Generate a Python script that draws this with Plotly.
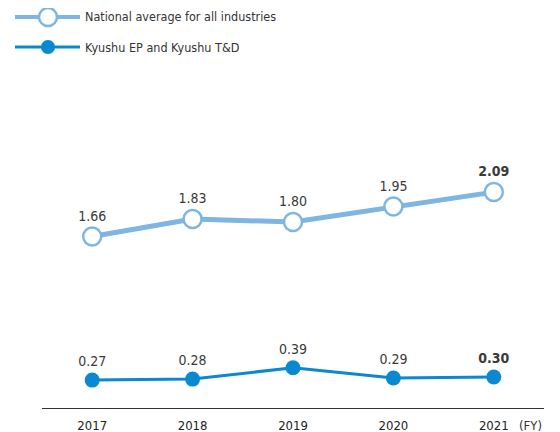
import plotly.graph_objects as go

years = [2017, 2018, 2019, 2020, 2021]
national = [1.66, 1.83, 1.80, 1.95, 2.09]
kyushu = [0.27, 0.28, 0.39, 0.29, 0.30]
names = ["National average for all industries", "Kyushu EP and Kyushu T&D"]

light = "#7db5e3"
dark = "#0a89d0"
font = "DejaVu Sans Condensed, Roboto, Arial, sans-serif"

# page body has an 8px margin, plot area wanted at x 42..544, y 70..408 in the window
OFF = 8
PL, PT, PW, PH = 42, 70, 502, 338
SCALE = 103.3  # px per unit

def px(x):
    return (x - PL) / PW

def py(y):
    return 1 - (y - PT) / PH

def labels(vals):
    out = [f"{v:.2f}" for v in vals]
    out[-1] = "<b>" + out[-1] + "</b>"
    return out

fig = go.Figure()
fig.add_trace(go.Scatter(x=years, y=national, mode="lines+markers+text",
                         text=labels(national), textposition="top center",
                         textfont=dict(size=14, color="#3a3a3a"),
                         line=dict(color=light, width=5),
                         marker=dict(size=18, color="white", line=dict(color=light, width=2.5)),
                         cliponaxis=False, name=names[0]))
fig.add_trace(go.Scatter(x=years, y=kyushu, mode="lines+markers+text",
                         text=labels(kyushu), textposition="top center",
                         textfont=dict(size=14, color="#3a3a3a"),
                         line=dict(color=dark, width=3),
                         marker=dict(size=15, color=dark),
                         cliponaxis=False, name=names[1]))

# hand drawn legend (long line samples with centered marker)
legend_rows = [(17, light, 4, 9, "white", 2.5), (47, dark, 3, 7, dark, 0)]
for (ypx, col, lw, r, fill, bw), nm in zip(legend_rows, names):
    fig.add_shape(type="line", xref="paper", yref="paper",
                  x0=px(15), x1=px(80), y0=py(ypx), y1=py(ypx),
                  line=dict(color=col, width=lw))
    fig.add_shape(type="circle", xref="paper", yref="paper",
                  xsizemode="pixel", ysizemode="pixel",
                  xanchor=px(48), yanchor=py(ypx),
                  x0=-r, x1=r, y0=-r, y1=r,
                  fillcolor=fill, line=dict(color=col, width=bw if bw else 0.1))
    fig.add_annotation(xref="paper", yref="paper", x=px(83), y=py(ypx),
                       xanchor="left", yanchor="middle", text=nm, showarrow=False,
                       font=dict(size=12.5, color="#333"))

fig.add_annotation(xref="paper", yref="paper", x=px(517), y=py(425),
                   xanchor="left", yanchor="middle", text="(FY)", showarrow=False,
                   font=dict(size=13, color="#333"))

fig.update_layout(
    width=560, height=432,
    margin=dict(l=PL - OFF, r=560 - (PL - OFF) - PW, t=PT - OFF, b=432 - (PT - OFF) - PH),
    paper_bgcolor="white", plot_bgcolor="white",
    showlegend=False,
    font=dict(family=font, size=13, color="#333"),
    xaxis=dict(range=[2016.5, 2021.5], tickvals=years, ticktext=[str(y) for y in years],
               showgrid=False, zeroline=False, showline=False, ticks="", automargin=False,
               ticklabelstandoff=8, tickfont=dict(size=13, color="#222")),
    yaxis=dict(range=[0, PH / SCALE], showgrid=False, zeroline=True, zerolinecolor="#333",
               zerolinewidth=1, showticklabels=False, showline=False, automargin=False),
)
fig.write_html("out.html")
